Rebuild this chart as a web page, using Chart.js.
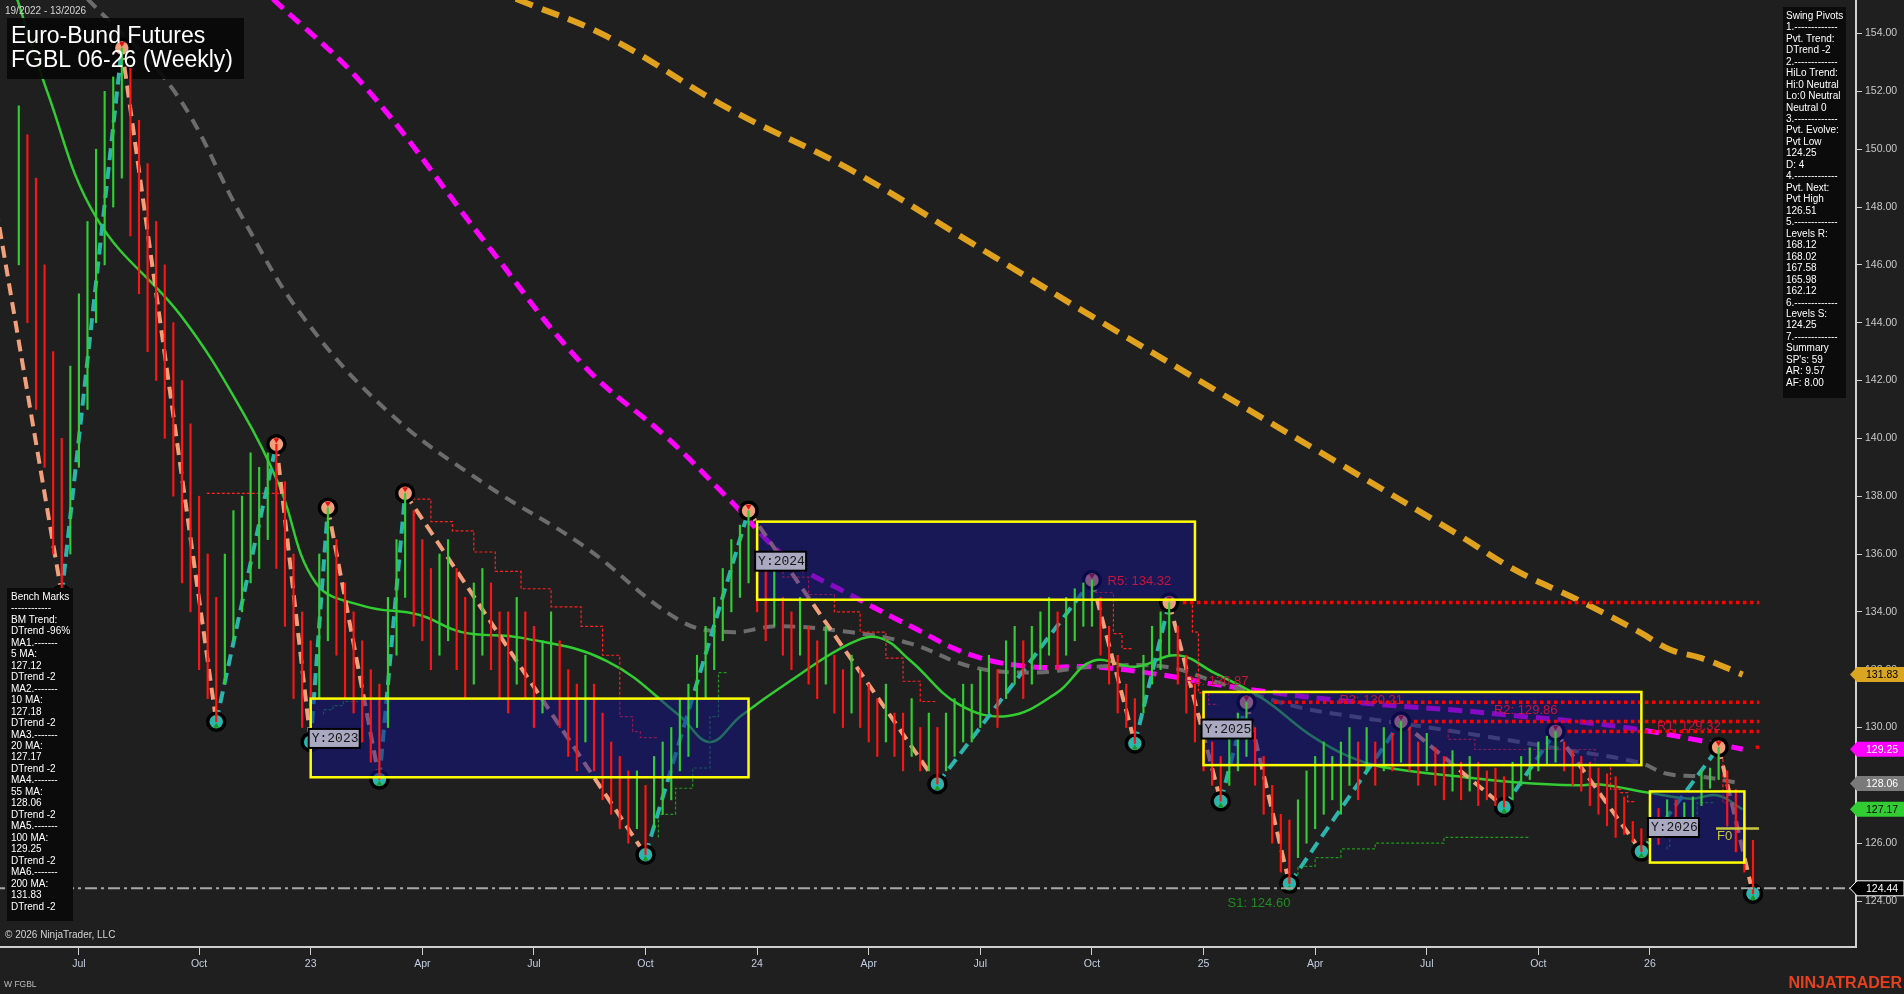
<!DOCTYPE html>
<html>
<head>
<meta charset="utf-8">
<script src="https://cdn.jsdelivr.net/npm/chart.js@4.4.1/dist/chart.umd.min.js"></script>
<style>
html, body { margin: 0; padding: 0; background: #1f1f1f; overflow: hidden; }
canvas { display: block; }
</style>
</head>
<body>
<canvas id="chart" width="1904" height="994"></canvas>
<script>
// weekly bars, index 0 = week 19/2022
const weekLow = [
  146, 144, 141, 139, 136, 134.6, 136, 139, 141, 144,
  146, 148, 149, 147, 145, 143, 142, 140, 138, 135,
  134, 132, 131, 130.2, 131.5, 133, 134, 135, 135.5, 136.5,
  135.5, 133.5, 131, 130, 129.5, 131, 133, 132.5, 131, 130.5,
  129.5, 128.8, 128.2, 130, 132.5, 134.5, 133.5, 133, 132, 132.5,
  133, 132, 131, 131.5, 132.5, 132, 131, 130.5, 131.5, 131,
  130, 130.5, 131, 130, 129, 128.5, 129.5, 128.5, 127.5, 127,
  126.5, 126, 126.5, 125.6, 126.5, 127, 127.5, 128.5, 129, 130,
  131, 132, 133, 134, 134.5, 135, 134, 133, 133.5, 132.5,
  132, 132.5, 131.5, 131, 131.5, 130.5, 130, 130.5, 130, 129.5,
  129, 129.5, 129, 128.5, 129, 128.5, 128.5, 128.05, 128.5, 129,
  129.5, 129.5, 130, 130.5, 130, 131, 131.5, 131, 131.5, 132,
  132.5, 132, 132.5, 133, 133.5, 133.5, 132.5, 131.5, 130.5, 130,
  129.45, 130.5, 131.5, 132, 132.5, 131.5, 130.5, 129.5, 128.5, 128,
  127.45, 128, 128.5, 129, 128, 127, 126, 125, 124.6, 125.5,
  126, 126.5, 127, 127.5, 127, 128, 127.5, 128.5, 128, 128.5,
  128.5, 128.8, 128.5, 128, 128.5, 128, 127.5, 127.8, 127.5, 127.8,
  127.3, 127.5, 127.3, 127.25, 127.5, 128, 128.2, 128.5, 128.7, 128.8,
  128.5, 128, 127.8, 127.3, 127.0, 126.6, 126.2, 126.3, 126.06, 125.71,
  125.9, 125.96, 126.9, 126.2, 126.9, 126.9, 127.3, 127.9, 128.2, 126.6,
  125.7, 125.0, 124.25
];
const weekHigh = [
  151.5, 150.5, 149, 146, 143, 140, 142.5, 145, 147.5, 150,
  152, 152.5, 153.5, 152.8, 151, 149.5, 147.5, 146, 144, 142,
  140.5, 138, 136, 134.5, 136, 137.5, 138, 139.5, 139, 139.5,
  139.8, 138.5, 136, 134, 133, 136, 137.6, 136.5, 135, 134,
  133, 132, 131.5, 134.5, 136.5, 138.1, 137.5, 136.5, 135.5, 136,
  136.5, 135.5, 134.5, 135, 135.5, 135, 134, 134, 134.5, 134,
  133.5, 133, 134, 133, 132, 131.5, 132.5, 131.5, 130.5, 129.5,
  129, 128.5, 128.5, 128, 129, 129.5, 130, 131, 131.5, 132.5,
  133.5, 134.5, 135.5, 136.5, 137, 137.5, 136.5, 135.5, 135.5, 134.5,
  134, 134.5, 133.5, 133, 133.5, 132.5, 132, 132.5, 132, 131.5,
  131, 131.5, 130.5, 130.5, 131, 130, 130.5, 130, 130.5, 131,
  131.5, 131.5, 132, 132.5, 132, 133, 133.5, 133, 133.5, 134,
  134.5, 134, 134.5, 134.8, 135, 135.1, 134.5, 133.5, 132.5, 131.5,
  131, 132.5, 133.5, 134, 134.32, 133.5, 132.5, 131.5, 130.5, 129.5,
  129, 130, 130.5, 130.87, 130, 129, 128, 127, 126.8, 127.5,
  128.5, 129, 129.5, 129, 129.5, 130, 129.5, 130, 129.5, 130,
  129.8, 130.21, 130, 129.5, 129.8, 129.3, 129, 129.2, 128.8, 129,
  128.8, 128.5, 128.6, 128.3, 128.8, 129, 129.3, 129.5, 129.7, 129.86,
  129.5, 129.2, 129, 128.8, 128.6, 128.4, 128.3, 127.6, 126.75, 126.5,
  127.3, 127.2, 127.5, 127.5, 127.4, 127.6, 128.5, 128.6, 129.32, 128.5,
  127.86, 126.9, 126.1
];

// swing pivots (zigzag)
const pivotWeek  = [-3, 5, 12, 23, 30, 34, 36, 42, 45, 73, 85, 107, 125, 130, 134, 140, 143, 148, 161, 173, 179, 189, 198, 202];
const pivotPrice = [148.6, 134.6, 153.5, 130.2, 139.8, 129.5, 137.6, 128.2, 138.1, 125.6, 137.5, 128.05, 135.1, 129.45, 134.32, 127.45, 130.87, 124.6, 130.21, 127.25, 129.86, 125.71, 129.32, 124.25];

// moving averages at sample weeks
const ma20Week = [-0.2, 3.3, 9.1, 19.0, 26.1, 30.3, 34.6, 40.2, 46.6, 51.6, 58.6, 68.5, 77.0, 80.5, 84.1, 89.8, 96.8, 100.3, 103.9, 109.5, 115.2, 120.9, 125.1, 130.1, 135.0, 139.2, 144.9, 150.9, 156.7, 162, 168, 174.6, 181.7, 184.2, 190.0, 194.7, 197.9, 200.8];
const ma20Val  = [155.2, 152.0, 147.6, 144.2, 140.9, 138.4, 135.0, 134.2, 133.9, 133.3, 133.1, 132.3, 130.4, 129.5, 130.4, 131.6, 132.9, 133.1, 132.3, 130.8, 130.4, 131.2, 132.3, 132.1, 132.5, 131.9, 131.0, 129.65, 128.8, 128.5, 128.3, 128.1, 128.0, 128.03, 127.74, 127.54, 127.65, 127.17];
const ma55Week = [8.0, 18.0, 26.1, 33.1, 43.1, 54.4, 65.7, 77.0, 82.7, 88.4, 96.8, 103.9, 111.0, 118.0, 125.1, 133.6, 139.2, 148.7, 155, 162.0, 170.9, 180.0, 188.7, 192, 196, 200.8];
const ma55Val  = [155.2, 152.05, 147.6, 144.2, 140.9, 138.4, 136.3, 133.7, 133.3, 133.5, 133.3, 132.9, 132.1, 131.9, 132.1, 132.1, 131.6, 130.73, 130.4, 130.1, 129.69, 129.24, 128.79, 128.4, 128.3, 128.06];
const ma100Week = [29.6, 40.2, 54.4, 65.7, 75.6, 82.7, 89.7, 96.8, 103.9, 111.0, 118.0, 125.1, 133.6, 139.2, 146.3, 153.4, 160.4, 167.5, 174.6, 181.7, 188.7, 195.8, 200.8];
const ma100Val  = [155.2, 152.2, 146.75, 142.55, 140.0, 137.9, 135.8, 134.6, 133.5, 132.5, 132.1, 132.1, 131.8, 131.5, 131.2, 130.95, 130.75, 130.6, 130.4, 130.2, 129.93, 129.55, 129.25];
const ma200Week = [57.9, 68.5, 82.7, 96.8, 111.0, 125.1, 139.2, 153.4, 167.5, 174.6, 181.7, 188.8, 192.3, 196, 200.8];
const ma200Val  = [155.2, 153.9, 151.4, 149.3, 146.75, 144.2, 141.7, 139.2, 136.7, 135.4, 134.4, 133.3, 132.7, 132.4, 131.83];

// trailing step lines (null = gap)
const stopHiWeek = [21.9, 30.3, 31, 45, 48, 50.5, 53, 55.5, 58.5, 62, 65.5, 68, 70, 71.5, 72.4, 74.3, 76.5, 86, 89, 92, 95, 98, 101, 103, 105, 107, 109, 125.4, 127.5, 128.5, 129.7, 132.9, 136.7, 137.4, 138.6, 139.7, 141.5, 166.5, 169.6, 183.6, 185.4, 186.6, 187.4, 188.3, 191.4, 198.5, 199.0, 200.9, 202.8];
const stopHiVal  = [138.1, 138.1, null, 138.17, 137.9, 137.12, 136.8, 136.07, 135.4, 134.8, 134.17, 133.5, 132.5, 130.38, 129.86, 129.65, null, 136.6, 135.9, 135.2, 134.6, 134.0, 133.3, 132.4, 131.6, 130.9, null, 134.87, 134.67, 133.25, 132.73, null, 134.25, 133.3, 131.2, 130.8, null, 129.93, 129.59, 129.24, 128.7, 127.86, 127.75, 127.44, null, 128.9, 127.4, 126.54, null];
const stopLoWeek = [35.5, 36.6, 37.8, 39.5, 41, 43.6, 44.6, 74.5, 76.5, 78.5, 80.5, 81.5, 82.6, 84, 149, 151, 154, 158, 166, 176, 186, 192, 192.3, 195.5, 197.6, 199];
const stopLoVal  = [130.45, 130.62, 130.76, 130.9, null, 130.17, null, 126.2, 127.0, 127.9, 128.6, 130.38, 131.9, null, 124.9, 125.2, 125.5, 125.8, 126.0, 126.2, null, 125.78, 125.89, 126.58, 127.4, null];

// yearly boxes
const yearName   = ['Y:2023', 'Y:2024', 'Y:2025', 'Y:2026'];
const yearFirst  = [34, 86, 138, 190];
const yearLast   = [85, 137, 189, 201];
const yearTop    = [131.0, 137.12, 131.23, 127.79];
const yearBottom = [128.28, 134.42, 128.70, 125.33];

// resistance / support levels
const resName  = ['R5', 'R4', 'R3', 'R2', 'R1'];
const resPrice = [134.32, 130.87, 130.21, 129.86, 129.32];
const resPivot = [134, 143, 161, 179, 198];
const resStart = [135.6, 146.2, 162.5, 180.4, 202.3];
const levelEnd = 202.7;
const supName = 'S1', supPrice = 124.60, supPivot = 148;
const lastPrice = 124.44;
const f0Price = 126.51, f0Start = 197.7, f0End = 202.7;

// axes
const tickWeeks  = [7, 21, 34, 47, 60, 73, 86, 99, 112, 125, 138, 151, 164, 177, 190];
const tickLabels = ['Jul', 'Oct', '23', 'Apr', 'Jul', 'Oct', '24', 'Apr', 'Jul', 'Oct', '25', 'Apr', 'Jul', 'Oct', '26'];
const yTicks = [124, 126, 128, 130, 132, 134, 136, 138, 140, 142, 144, 146, 148, 150, 152, 154];

const swingLines = ['Swing Pivots', '1.-------------', 'Pvt. Trend:', 'DTrend -2', '2.-------------', 'HiLo Trend:', 'Hi:0 Neutral', 'Lo:0 Neutral', 'Neutral 0', '3.-------------', 'Pvt. Evolve:', 'Pvt Low', '124.25', 'D: 4', '4.-------------', 'Pvt. Next:', 'Pvt High', '126.51', '5.-------------', 'Levels R:', '168.12', '168.02', '167.58', '165.98', '162.12', '6.-------------', 'Levels S:', '124.25', '7.-------------', 'Summary', "SP's: 59", 'AR: 9.57', 'AF: 8.00'];
const benchLines = ['Bench Marks', '------------', 'BM Trend:', 'DTrend -96%', 'MA1.-------', '5 MA:', '127.12', 'DTrend -2', 'MA2.-------', '10 MA:', '127.18', 'DTrend -2', 'MA3.-------', '20 MA:', '127.17', 'DTrend -2', 'MA4.-------', '55 MA:', '128.06', 'DTrend -2', 'MA5.-------', '100 MA:', '129.25', 'DTrend -2', 'MA6.-------', '200 MA:', '131.83', 'DTrend -2'];

const FONT = "'Liberation Sans', Arial, sans-serif";
const UP = '#2cb5ad', DOWN = '#f2a07c';
const RED = '#ff1414', GREEN = '#32cd32';

// keep the plot flush with the canvas edges (no padding for point overflow)
Chart.registry.getController('line').prototype.getMaxOverflow = function () { return 0; };

const pts = (xs, ys) => xs.map((x, i) => ({ x: x, y: ys[i] }));
const mid = i => (weekLow[i] + weekHigh[i]) / 2;
const isHigh = i => i > 0 && pivotPrice[i] > pivotPrice[i - 1];

const datasets = [
  { label: 'ma200', data: pts(ma200Week, ma200Val), borderColor: '#e0a21e', borderWidth: 6, borderDash: [18, 10], tension: 0.4, pointRadius: 0, order: 20 },
  { label: 'ma100', data: pts(ma100Week, ma100Val), borderColor: '#ff00ff', borderWidth: 5, borderDash: [14, 8], tension: 0.4, pointRadius: 0, order: 19 },
  { label: 'ma55', data: pts(ma55Week, ma55Val), borderColor: '#6c6c6c', borderWidth: 4, borderDash: [12, 8], tension: 0.4, pointRadius: 0, order: 18 },
  { label: 'ma20', data: pts(ma20Week, ma20Val), borderColor: '#32cd32', borderWidth: 2.5, tension: 0.4, pointRadius: 0, order: 17 },
  { label: 'stopHi', data: pts(stopHiWeek, stopHiVal), borderColor: '#ff2020', borderWidth: 1.2, borderDash: [3, 2], stepped: 'after', spanGaps: false, pointRadius: 0, order: 16 },
  { label: 'stopLo', data: pts(stopLoWeek, stopLoVal), borderColor: '#1c9a1c', borderWidth: 1.2, borderDash: [3, 2], stepped: 'after', spanGaps: false, pointRadius: 0, order: 15 },
  {
    label: 'zigzag', data: pts(pivotWeek, pivotPrice), borderWidth: 4, borderDash: [12, 7], order: 10,
    segment: { borderColor: c => c.p1.parsed.y > c.p0.parsed.y ? UP : DOWN },
    pointRadius: c => c.dataIndex === 0 ? 0 : 8.5,
    pointBackgroundColor: c => isHigh(c.dataIndex) ? DOWN : UP,
    pointBorderColor: '#000', pointBorderWidth: 3.5
  },
  {
    type: 'bar', label: 'bars', order: 5, barThickness: 1.5, grouped: false,
    data: weekLow.map((l, i) => ({ x: i, y: [l, weekHigh[i]] })),
    backgroundColor: c => (c.dataIndex > 0 && mid(c.dataIndex) < mid(c.dataIndex - 1)) ? RED : GREEN
  },
  { label: 'last', data: [{ x: -3, y: lastPrice }, { x: 215, y: lastPrice }], borderColor: '#a8a8a8', borderWidth: 2, borderDash: [12, 4, 3, 4], pointRadius: 0, order: 3 },
  { label: 'f0', data: [{ x: f0Start, y: f0Price }, { x: f0End, y: f0Price }], borderColor: '#c8c83c', borderWidth: 2.5, pointRadius: 0, order: 2 }
];
resPrice.forEach((p, i) => {
  datasets.push({ label: resName[i], data: [{ x: resStart[i], y: p }, { x: levelEnd, y: p }], borderColor: '#ff0000', borderWidth: 3.5, borderDash: [3.5, 3.5], pointRadius: 0, order: 1 });
});

function tag(ctx, yPix, text, bg, fg, edge) {
  const x0 = 1850, x1 = 1904, h = 15;
  ctx.beginPath();
  ctx.moveTo(x0, yPix);
  ctx.lineTo(x0 + 7, yPix - h / 2);
  ctx.lineTo(x1, yPix - h / 2);
  ctx.lineTo(x1, yPix + h / 2);
  ctx.lineTo(x0 + 7, yPix + h / 2);
  ctx.closePath();
  ctx.fillStyle = bg;
  ctx.fill();
  if (edge) { ctx.strokeStyle = edge; ctx.lineWidth = 1; ctx.stroke(); }
  ctx.fillStyle = fg;
  ctx.font = '10.5px ' + FONT;
  ctx.textAlign = 'left';
  ctx.textBaseline = 'middle';
  ctx.fillText(text, 1866, yPix + 0.5);
}

const overlay = {
  id: 'overlay',
  beforeDatasetDraw(chart, args) {
    const ctx = chart.ctx, xs = chart.scales.x, ys = chart.scales.y;
    const label = chart.data.datasets[args.index].label;
    if (label === 'zigzag') {
      // title box sits under the zigzag
      ctx.save();
      ctx.fillStyle = 'rgba(8,8,8,0.92)';
      ctx.fillRect(7, 18, 237, 61);
      ctx.restore();
    }
    if (label === 'bars') {
      ctx.save();
      ctx.fillStyle = 'rgba(20,20,140,0.52)';
      yearName.forEach((n, i) => {
        const l = xs.getPixelForValue(yearFirst[i]), r = xs.getPixelForValue(yearLast[i]);
        const t = ys.getPixelForValue(yearTop[i]), b = ys.getPixelForValue(yearBottom[i]);
        ctx.fillRect(l, t, r - l, b - t);
      });
      ctx.restore();
    }
  },
  afterDatasetDraw(chart, args) {
    const ctx = chart.ctx, xs = chart.scales.x, ys = chart.scales.y;
    if (chart.data.datasets[args.index].label !== 'zigzag') return;
    ctx.save();
    pivotWeek.forEach((w, i) => {
      if (i === 0) return;
      const px = xs.getPixelForValue(w), py = ys.getPixelForValue(pivotPrice[i]);
      ctx.beginPath();
      if (isHigh(i)) {
        ctx.fillStyle = '#e01010';
        ctx.moveTo(px - 3, py - 6); ctx.lineTo(px + 3, py - 6); ctx.lineTo(px, py - 1);
      } else {
        ctx.fillStyle = '#1c9a1c';
        ctx.moveTo(px - 3, py + 6); ctx.lineTo(px + 3, py + 6); ctx.lineTo(px, py + 1);
      }
      ctx.closePath();
      ctx.fill();
    });
    ctx.restore();
  },
  afterDatasetsDraw(chart) {
    const ctx = chart.ctx, xs = chart.scales.x, ys = chart.scales.y;
    ctx.save();
    // yearly box outlines and labels
    yearName.forEach((n, i) => {
      const l = xs.getPixelForValue(yearFirst[i]), r = xs.getPixelForValue(yearLast[i]);
      const t = ys.getPixelForValue(yearTop[i]), b = ys.getPixelForValue(yearBottom[i]);
      ctx.strokeStyle = '#ffff00';
      ctx.lineWidth = 2.5;
      ctx.strokeRect(l, t, r - l, b - t);
      const m = (t + b) / 2;
      ctx.fillStyle = '#a9a9c2';
      ctx.fillRect(l - 2, m - 9, 51, 19);
      ctx.strokeStyle = '#000';
      ctx.lineWidth = 2;
      ctx.strokeRect(l - 2, m - 9, 51, 19);
      ctx.fillStyle = '#151515';
      ctx.font = '13px "Liberation Mono", "DejaVu Sans Mono", monospace';
      ctx.textAlign = 'left';
      ctx.textBaseline = 'middle';
      ctx.fillText(n, l + 1, m + 1);
    });
    // level labels
    ctx.font = '13px ' + FONT;
    ctx.textAlign = 'right';
    ctx.textBaseline = 'middle';
    ctx.fillStyle = '#c8143c';
    resName.forEach((n, i) => {
      const px = xs.getPixelForValue(resPivot[i]), py = ys.getPixelForValue(resPrice[i]);
      ctx.fillText(n + ': ' + resPrice[i].toFixed(2), px + 2, py - 21);
    });
    ctx.fillStyle = '#1e8c1e';
    ctx.fillText(supName + ': ' + supPrice.toFixed(2), xs.getPixelForValue(supPivot) + 1, ys.getPixelForValue(supPrice) + 20);
    ctx.textAlign = 'left';
    ctx.fillStyle = '#c8c83c';
    ctx.fillText('F0', xs.getPixelForValue(f0Start) + 1, ys.getPixelForValue(f0Price) + 8);
    ctx.restore();
  },
  afterDraw(chart) {
    const ctx = chart.ctx, ys = chart.scales.y;
    ctx.save();
    ctx.textAlign = 'left';
    ctx.fillStyle = '#ffffff';
    ctx.font = '23px ' + FONT;
    ctx.textBaseline = 'alphabetic';
    ctx.fillText('Euro-Bund Futures', 11, 43);
    ctx.fillText('FGBL 06-26 (Weekly)', 11, 67);

    // info panels
    ctx.fillStyle = '#0b0b0b';
    ctx.fillRect(1783, 7, 63, 391);
    ctx.fillRect(7, 588, 66, 333);
    ctx.fillStyle = '#ffffff';
    ctx.font = '10px ' + FONT;
    ctx.textBaseline = 'middle';
    swingLines.forEach((s, i) => ctx.fillText(s, 1786, 16 + i * 11.47));
    benchLines.forEach((s, i) => ctx.fillText(s, 11, 597 + i * 11.48));

    ctx.fillStyle = '#d4d4d4';
    ctx.fillText('19/2022 - 13/2026', 5, 11);
    ctx.fillText('\u00a9 2026 NinjaTrader, LLC', 5, 935);
    ctx.font = '8.5px ' + FONT;
    ctx.fillStyle = '#bdbdbd';
    ctx.fillText('W FGBL', 4, 985);
    ctx.font = 'bold 16px ' + FONT;
    ctx.textAlign = 'right';
    ctx.fillStyle = '#e8401c';
    ctx.fillText('NINJATRADER', 1902, 984);

    // price markers on the axis
    tag(ctx, ys.getPixelForValue(ma200Val[ma200Val.length - 1]), ma200Val[ma200Val.length - 1].toFixed(2), '#daa520', '#000', null);
    tag(ctx, ys.getPixelForValue(ma100Val[ma100Val.length - 1]), ma100Val[ma100Val.length - 1].toFixed(2), '#ff00ff', '#fff', null);
    tag(ctx, ys.getPixelForValue(ma55Val[ma55Val.length - 1]), ma55Val[ma55Val.length - 1].toFixed(2), '#7a7a7a', '#fff', null);
    tag(ctx, ys.getPixelForValue(ma20Val[ma20Val.length - 1]), ma20Val[ma20Val.length - 1].toFixed(2), '#32cd32', '#000', null);
    tag(ctx, ys.getPixelForValue(lastPrice), lastPrice.toFixed(2), '#000', '#fff', '#ffffff');
    ctx.restore();
  }
};

new Chart(document.getElementById('chart'), {
  type: 'line',
  data: { datasets: datasets },
  plugins: [overlay],
  options: {
    responsive: false,
    devicePixelRatio: 1,
    animation: false,
    layout: { padding: 0 },
    plugins: { legend: { display: false }, tooltip: { enabled: false }, title: { display: false } },
    scales: {
      x: {
        type: 'linear', min: -2.19, max: 214.0, offset: false,
        afterBuildTicks: s => { s.ticks = tickWeeks.map(v => ({ value: v })); },
        afterFit: s => { s.height = 47; s.paddingLeft = 0; s.paddingRight = 0; },
        ticks: { color: '#c3cee0', font: { family: FONT, size: 10.5 }, autoSkip: false, maxRotation: 0, padding: 3, callback: (v, i) => tickLabels[i] },
        grid: { display: true, drawOnChartArea: false, drawTicks: true, tickLength: 8, color: '#cfcfcf', offset: false },
        border: { display: true, color: '#cfcfcf', width: 2 }
      },
      y: {
        type: 'linear', position: 'right', min: 122.41, max: 155.16,
        afterBuildTicks: s => { s.ticks = yTicks.map(v => ({ value: v })); },
        afterFit: s => { s.width = 48; s.paddingTop = 0; s.paddingBottom = 0; },
        ticks: { color: '#c8c8c8', font: { family: FONT, size: 10.5 }, padding: 3, callback: v => v.toFixed(2) },
        grid: { display: true, drawOnChartArea: false, drawTicks: true, tickLength: 6, color: '#cfcfcf' },
        border: { display: true, color: '#cfcfcf', width: 2 }
      }
    }
  }
});
</script>
</body>
</html>
